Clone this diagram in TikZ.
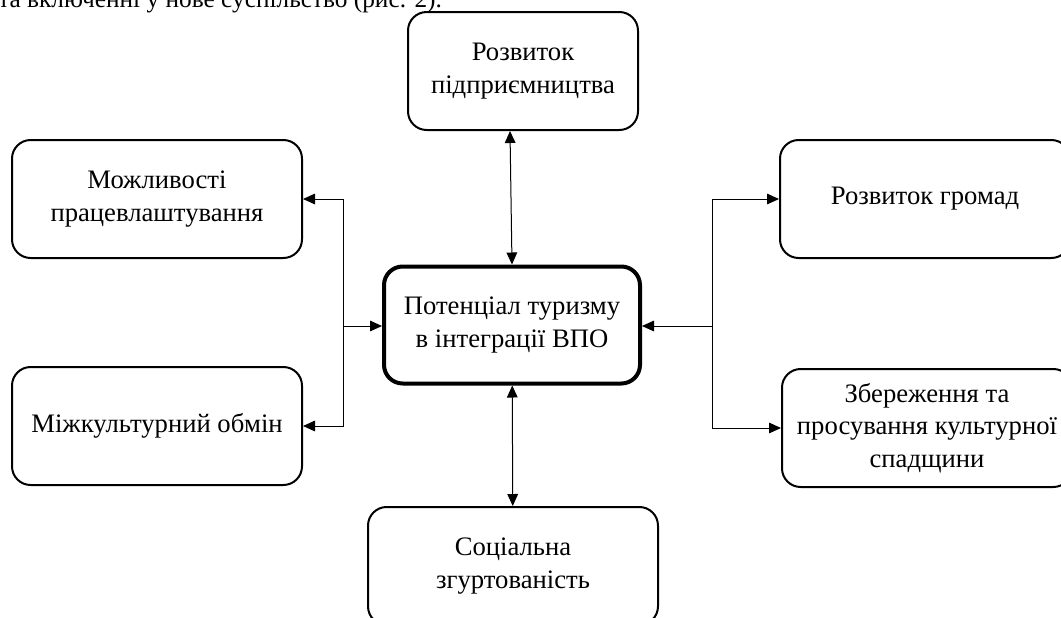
\documentclass[tikz,border=0pt]{standalone}
\usepackage{fontspec}
\setmainfont{Liberation Serif}
\usetikzlibrary{arrows.meta, positioning}

\begin{document}
\begin{tikzpicture}[x=0.75pt, y=-0.75pt,
        box/.style={draw, line width=1.5pt, rounded corners=14pt, align=center,
            minimum width=217.5pt, minimum height=88.5pt, font=\fontsize{20}{24.5}\selectfont},
        link/.style={-{Triangle[length=9pt, width=8pt]}, line width=0.75pt},
        both/.style={{Triangle[length=9pt, width=8pt]}-{Triangle[length=9pt, width=8pt]}, line width=0.75pt}]
        \clip (0,0) rectangle (1061,618);
        % caption text cut at the top
        \node[anchor=base west, inner sep=0pt, font=\fontsize{19}{21}\selectfont]
            (cap) at (-2,7) {та включенні у нове суспільство (рис. 2).};
        % centre
        \node[box, line width=3pt, minimum width=192pt, minimum height=87.75pt]
            (core) at (512,325) {Потенціал туризму\\в інтеграції ВПО};
        % boxes around
        \node[box, minimum width=172.5pt] (ent)  at (523,71)  {Розвиток\\підприємництва};
        \node[box] (emp)  at (157,199) {Можливості\\працевлаштування};
        \node[box] (cult) at (157,426) {Міжкультурний обмін};
        \node[box] (comm) at (925,199) {Розвиток громад};
        \node[box] (herit) at (927,428) {Збереження та\\просування культурної\\спадщини};
        \node[box] (soc)  at (513,566) {Соціальна\\згуртованість};
        % junctions
        \coordinate (jl) at (343,326);
        \coordinate (jr) at (712,326);
        \draw[both] ([xshift=-9.75pt]ent.south) -- (core.north);
        \draw[both] (core) -- (soc);
        \draw[link] (jl) -- (core.west |- jl);
        \draw[link] (jl) |- (emp.east);
        \draw[link] (jl) |- (cult.east);
        \draw[link] (jr) -- (core.east |- jr);
        \draw[link] (jr) |- (comm.west);
        \draw[link] (jr) |- (herit.west);
    \end{tikzpicture}
\end{document}
